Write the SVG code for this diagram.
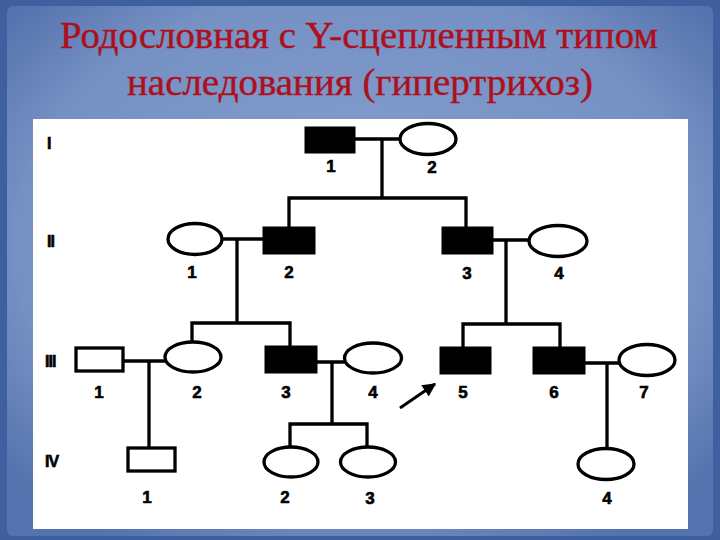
<svg xmlns="http://www.w3.org/2000/svg" width="720" height="540" viewBox="0 0 720 540">
<defs>
<radialGradient id="bg" cx="50%" cy="45%" r="65%">
<stop offset="0" stop-color="#86a0cf"/>
<stop offset="0.75" stop-color="#7590c3"/>
<stop offset="1" stop-color="#5573ae"/>
</radialGradient>
<marker id="ah" viewBox="0 0 10 10" refX="9" refY="5" markerWidth="4.5" markerHeight="4.5" orient="auto">
<path d="M0,0 L10,5 L0,10 z" fill="#000"/>
</marker>
</defs>
<style>
.title{font-family:"Liberation Serif","DejaVu Serif",serif;font-size:37px;fill:#ad101c;stroke:#ad101c;stroke-width:0.4;text-anchor:middle}
.lbl{font-family:"Liberation Sans",Arial,sans-serif;font-weight:bold;font-size:17px;fill:#000;stroke:#000;stroke-width:0.6;text-anchor:middle}
.gen{font-family:"Liberation Sans",Arial,sans-serif;font-weight:bold;font-size:16px;fill:#000;stroke:#000;stroke-width:0.6;letter-spacing:-1px}
.aff{fill:#000;stroke:#000;stroke-width:3}
.un{fill:#fff;stroke:#000;stroke-width:3.3}
.ln{stroke:#000;stroke-width:3.3;fill:none;stroke-linecap:square}
</style>
<rect x="0" y="0" width="720" height="540" fill="#3f5f9e"/>
<rect x="7" y="6" width="706" height="530" rx="6" fill="url(#bg)"/>
<text class="title" x="359" y="48" textLength="598" lengthAdjust="spacingAndGlyphs">Родословная с Y-сцепленным типом</text>
<text class="title" x="360" y="95" textLength="466" lengthAdjust="spacingAndGlyphs">наследования (гипертрихоз)</text>
<rect x="33" y="119" width="655" height="410" fill="#fff"/>
<g id="generations">
<text class="gen" x="47" y="149">I</text>
<text class="gen" x="47" y="247">II</text>
<text class="gen" x="45" y="367">III</text>
<text class="gen" x="45" y="467">IV</text>
</g>
<g id="connectors">
<path class="ln" d="M355,139 H400 M382,139 V198 M289,198 H466 M289,198 V228 M466,198 V228"/>
<path class="ln" d="M222,239 H264 M237,239 V323 M192,323 H290 M192,323 V342 M290,323 V347"/>
<path class="ln" d="M492,240 H529 M506,240 V324 M463,324 H560 M463,324 V348 M560,324 V348"/>
<path class="ln" d="M123,361 H165 M149,361 V447"/>
<path class="ln" d="M316,362 H344 M332,362 V424 M290,424 H367 M290,424 V447 M367,424 V447"/>
<path class="ln" d="M584,363 H619 M607,363 V448"/>
<line x1="400" y1="408" x2="435" y2="384" stroke="#000" stroke-width="3" marker-end="url(#ah)"/>
</g>
<g id="I-1"><rect class="aff" x="306" y="128" width="48" height="24"/><text class="lbl" x="331" y="172">1</text></g>
<g id="I-2"><ellipse class="un" cx="428" cy="139" rx="28" ry="15.5"/><text class="lbl" x="432" y="173">2</text></g>
<g id="II-1"><ellipse class="un" cx="195" cy="239" rx="27" ry="15.5"/><text class="lbl" x="192" y="278">1</text></g>
<g id="II-2"><rect class="aff" x="264" y="228" width="50" height="25"/><text class="lbl" x="289" y="278">2</text></g>
<g id="II-3"><rect class="aff" x="443" y="228" width="49" height="25"/><text class="lbl" x="467" y="279">3</text></g>
<g id="II-4"><ellipse class="un" cx="558" cy="241" rx="29" ry="15.5"/><text class="lbl" x="559" y="279">4</text></g>
<g id="III-1"><rect class="un" x="76" y="348" width="47" height="23"/><text class="lbl" x="99" y="398">1</text></g>
<g id="III-2"><ellipse class="un" cx="193" cy="357" rx="28" ry="15"/><text class="lbl" x="197" y="398">2</text></g>
<g id="III-3"><rect class="aff" x="266" y="347" width="50" height="25"/><text class="lbl" x="286" y="398">3</text></g>
<g id="III-4"><ellipse class="un" cx="373" cy="358" rx="28.5" ry="15"/><text class="lbl" x="373" y="398">4</text></g>
<g id="III-5"><rect class="aff" x="441" y="348" width="49" height="25"/><text class="lbl" x="463" y="398">5</text></g>
<g id="III-6"><rect class="aff" x="534" y="348" width="50" height="25"/><text class="lbl" x="554" y="398">6</text></g>
<g id="III-7"><ellipse class="un" cx="647" cy="360" rx="28" ry="15.5"/><text class="lbl" x="644" y="398">7</text></g>
<g id="IV-1"><rect class="un" x="128" y="448" width="47" height="23"/><text class="lbl" x="147" y="503">1</text></g>
<g id="IV-2"><ellipse class="un" cx="291" cy="462" rx="27" ry="15"/><text class="lbl" x="285" y="503">2</text></g>
<g id="IV-3"><ellipse class="un" cx="368" cy="462" rx="27.5" ry="15"/><text class="lbl" x="370" y="504">3</text></g>
<g id="IV-4"><ellipse class="un" cx="606" cy="464" rx="28" ry="15.5"/><text class="lbl" x="607" y="504">4</text></g>
</svg>
